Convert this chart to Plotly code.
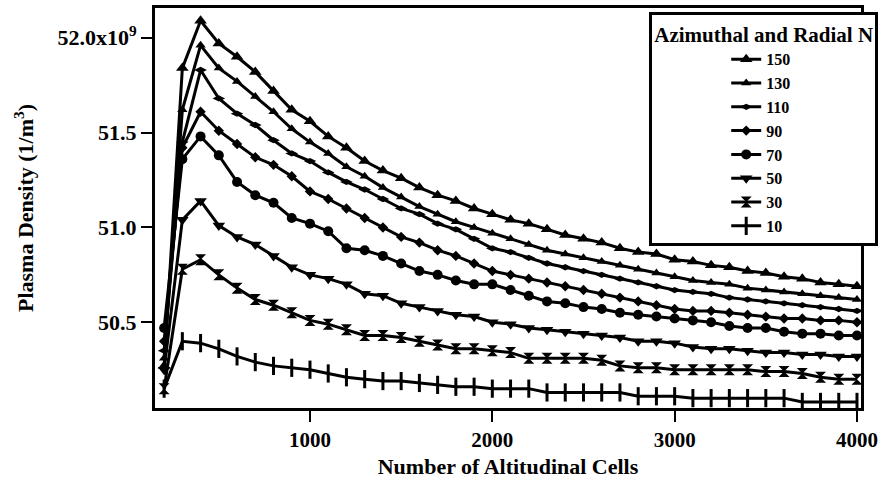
import plotly.graph_objects as go

cells = list(range(200, 4001, 100))

n150 = [50.27, 51.84, 52.09, 51.97, 51.90, 51.82, 51.72, 51.62, 51.56, 51.48,
        51.42, 51.35, 51.30, 51.26, 51.21, 51.17, 51.14, 51.10, 51.07, 51.04,
        51.02, 50.99, 50.96, 50.94, 50.92, 50.89, 50.87, 50.86, 50.83, 50.82,
        50.80, 50.79, 50.77, 50.76, 50.74, 50.73, 50.71, 50.70, 50.69]
n130 = [50.31, 51.62, 51.96, 51.84, 51.77, 51.69, 51.61, 51.52, 51.45, 51.39,
        51.32, 51.27, 51.21, 51.16, 51.11, 51.07, 51.03, 51.00, 50.97, 50.94,
        50.91, 50.88, 50.86, 50.84, 50.82, 50.80, 50.78, 50.76, 50.74, 50.72,
        50.71, 50.70, 50.68, 50.67, 50.66, 50.65, 50.64, 50.63, 50.62]
n110 = [50.35, 51.45, 51.83, 51.68, 51.60, 51.54, 51.46, 51.39, 51.35, 51.29,
        51.24, 51.20, 51.15, 51.10, 51.07, 51.02, 50.99, 50.94, 50.89, 50.87,
        50.84, 50.81, 50.79, 50.77, 50.75, 50.73, 50.71, 50.69, 50.67, 50.66,
        50.65, 50.63, 50.62, 50.61, 50.60, 50.59, 50.58, 50.57, 50.56]
n90 = [50.40, 51.42, 51.61, 51.51, 51.44, 51.37, 51.33, 51.27, 51.19, 51.15,
       51.10, 51.05, 51.00, 50.95, 50.92, 50.88, 50.85, 50.81, 50.77, 50.75,
       50.73, 50.71, 50.69, 50.67, 50.65, 50.63, 50.61, 50.59, 50.57, 50.56,
       50.56, 50.55, 50.54, 50.53, 50.52, 50.52, 50.51, 50.51, 50.50]
n70 = [50.47, 51.36, 51.48, 51.38, 51.24, 51.17, 51.13, 51.05, 51.02, 50.98,
       50.89, 50.88, 50.85, 50.81, 50.77, 50.75, 50.72, 50.70, 50.70, 50.67,
       50.64, 50.61, 50.60, 50.58, 50.57, 50.55, 50.54, 50.53, 50.52, 50.51,
       50.50, 50.48, 50.47, 50.47, 50.45, 50.44, 50.44, 50.43, 50.43]
n50 = [50.25, 51.04, 51.14, 51.01, 50.95, 50.91, 50.85, 50.79, 50.75, 50.73,
       50.70, 50.65, 50.64, 50.60, 50.58, 50.56, 50.54, 50.53, 50.50, 50.49,
       50.47, 50.46, 50.45, 50.44, 50.43, 50.42, 50.40, 50.40, 50.39, 50.37,
       50.36, 50.36, 50.35, 50.34, 50.34, 50.33, 50.33, 50.32, 50.32]
n30 = [50.15, 50.78, 50.83, 50.75, 50.68, 50.62, 50.59, 50.55, 50.51, 50.49,
       50.46, 50.43, 50.43, 50.42, 50.40, 50.38, 50.36, 50.36, 50.35, 50.34,
       50.31, 50.31, 50.31, 50.31, 50.30, 50.27, 50.26, 50.26, 50.25, 50.25,
       50.25, 50.25, 50.25, 50.24, 50.24, 50.23, 50.21, 50.20, 50.20]
n10 = [50.15, 50.40, 50.39, 50.36, 50.32, 50.29, 50.27, 50.26, 50.25, 50.23,
       50.21, 50.20, 50.19, 50.19, 50.18, 50.17, 50.16, 50.16, 50.15, 50.15,
       50.15, 50.13, 50.13, 50.13, 50.13, 50.13, 50.11, 50.11, 50.11, 50.10,
       50.10, 50.10, 50.10, 50.10, 50.10, 50.08, 50.08, 50.08, 50.08]

series_names = ["150", "130", "110", "90", "70", "50", "30", "10"]
series_values = [n150, n130, n110, n90, n70, n50, n30, n10]
symbols = ["triangle-up", "triangle-up", "diamond-wide", "diamond", "circle",
           "triangle-down", "hourglass", "line-ns"]
sizes = [11, 9, 9, 8, 10, 11, 11, 13]

ytick_vals = [50.5, 51.0, 51.5, 52.0]
ytick_text = ["50.5", "51.0", "51.5", "52.0x10<sup>9</sup>"]
xtick_vals = [1000, 2000, 3000, 4000]

FONT = "Liberation Serif"

fig = go.Figure()
for name, vals, sym, sz in zip(series_names, series_values, symbols, sizes):
    fig.add_trace(go.Scatter(
        x=cells, y=vals, name=name, mode="lines+markers",
        line=dict(color="black", width=3),
        marker=dict(symbol=sym, size=sz, color="black",
                    line=dict(color="black", width=3 if sym == "line-ns" else 0)),
    ))

fig.update_layout(
    width=883, height=487,
    margin=dict(l=155, r=13, t=5, b=79),
    paper_bgcolor="white", plot_bgcolor="white",
    font=dict(family=FONT, color="black", size=20),
    xaxis=dict(
        range=[150, 4022], tickvals=xtick_vals, ticks="outside", ticklen=11,
        tickwidth=2, tickcolor="black", showline=True, linewidth=3,
        linecolor="black", mirror=True, showgrid=False, zeroline=False,
        ticklabeloverflow="allow",
        tickfont=dict(family=FONT, size=21, weight="bold"),
        title=dict(text="Number of Altitudinal Cells", standoff=8,
                   font=dict(family=FONT, size=22, weight="bold")),
    ),
    yaxis=dict(
        range=[50.048, 52.157], tickvals=ytick_vals, ticktext=ytick_text,
        ticks="outside", ticklen=11, tickwidth=2, tickcolor="black",
        showline=True, linewidth=3, linecolor="black", mirror=True,
        showgrid=False, zeroline=False,
        tickfont=dict(family=FONT, size=22, weight="bold"),
        title=dict(text="Plasma Density (1/m<sup>3</sup>)", standoff=18,
                   font=dict(family=FONT, size=22, weight="bold")),
    ),
    legend=dict(
        x=0.70, y=0.99, xanchor="left", yanchor="top",
        bgcolor="white", bordercolor="black", borderwidth=3,
        font=dict(family=FONT, size=16, weight="bold"),
        title=dict(text="Azimuthal and Radial N", side="top center",
                   font=dict(family=FONT, size=21, weight="bold")),
        indentation=74,
        tracegroupgap=0,
    ),
    showlegend=True,
)

fig.write_html("out.html")
